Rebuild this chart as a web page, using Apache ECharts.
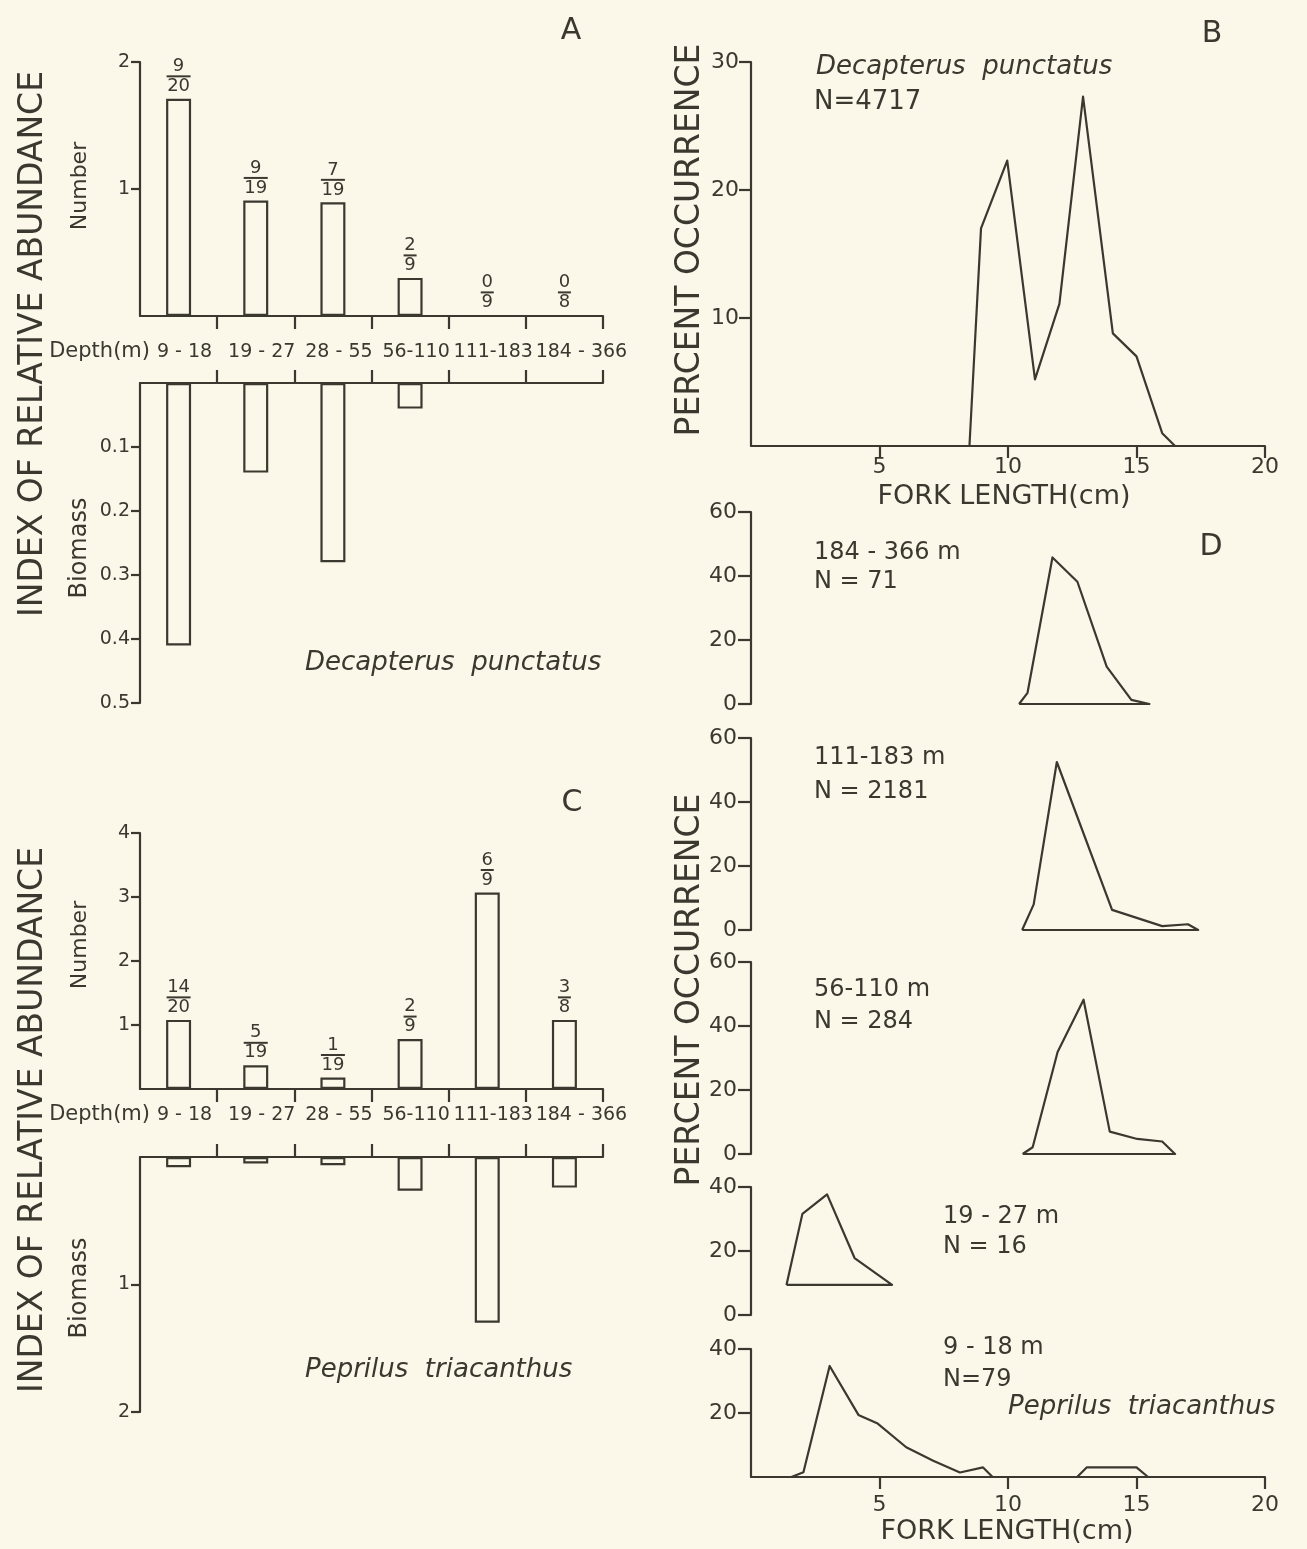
<!DOCTYPE html>
<html>
<head>
<meta charset="utf-8">
<script src="https://cdn.jsdelivr.net/npm/echarts@6/dist/echarts.min.js"></script>
<style>
  html, body { margin: 0; padding: 0; background: #fbf8ea; }
  #chart { width: 1307px; height: 1549px; }
</style>
</head>
<body>
<div id="chart"></div>
<script>
// Depth strata (m)
const depthRanges = ['9 - 18', '19 - 27', '28 - 55', '56-110', '111-183', '184 - 366'];

// A: Decapterus punctatus, index of relative abundance
const decapNumber = [1.71, 0.91, 0.895, 0.30, 0, 0];
const decapFractions = ['9/20', '9/19', '7/19', '2/9', '0/9', '0/8'];
const decapBiomass = [0.41, 0.14, 0.28, 0.04, 0, 0];

// C: Peprilus triacanthus, index of relative abundance
const peprNumber = [1.08, 0.37, 0.18, 0.78, 3.07, 1.08];
const peprFractions = ['14/20', '5/19', '1/19', '2/9', '6/9', '3/8'];
const peprBiomass = [0.08, 0.05, 0.065, 0.265, 1.30, 0.24];

// B: length frequency, D. punctatus (fork length cm, percent occurrence)
const forkDecap = [[8.5, 0], [8.95, 17.0], [9.97, 22.3], [11.05, 5.2], [12.0, 11.1], [12.92, 27.3], [14.08, 8.8], [15.0, 7.0], [16.0, 1.0], [16.5, 0]];

// D: length frequency, P. triacanthus by depth stratum (closed polygons)
const fork184 = [[10.43, 0], [10.76, 3.5], [11.73, 45.8], [12.7, 38.2], [13.84, 11.7], [14.8, 1.3], [15.5, 0], [10.43, 0]];
const fork111 = [[10.55, 0], [11.0, 8.0], [11.9, 52.5], [14.05, 6.3], [16.0, 1.2], [17.0, 1.8], [17.4, 0], [10.55, 0]];
const fork56 = [[10.57, 0], [10.96, 2.1], [11.93, 31.9], [12.94, 48.2], [13.96, 7.0], [15.03, 4.7], [16.0, 3.9], [16.5, 0], [10.57, 0]];
const fork19 = [[1.38, 9.4], [2.0, 31.6], [2.96, 37.7], [4.03, 17.8], [5.49, 9.4], [1.38, 9.4]];
const fork9a = [[1.57, 0], [2.04, 1.5], [3.06, 34.7], [4.18, 19.4], [4.93, 16.7], [6.04, 9.3], [7.09, 5.1], [8.13, 1.4], [9.03, 3.0], [9.4, 0]];
const fork9b = [[12.69, 0], [13.06, 3.0], [15.0, 3.0], [15.45, 0]];

// Tick values
const numberTicksA = [1, 2];
const biomassTicksA = [0.1, 0.2, 0.3, 0.4, 0.5];
const numberTicksC = [1, 2, 3, 4];
const biomassTicksC = [1, 2];
const pctTicksB = [10, 20, 30];
const pctTicks60 = [0, 20, 40, 60];
const pctTicks40 = [0, 20, 40];
const pctTicks40NoZero = [20, 40];
const lengthTicks = [5, 10, 15, 20];

const ink = '#3b3830';
const font = 'DejaVu Sans';
const lw = 2.2;

const chart = echarts.init(document.getElementById('chart'), null, { renderer: 'canvas' });

function grid(left, top, width, height) {
  return { left, top, width, height, containLabel: false };
}

function catAxis(gridIndex, top, showLabels, margin) {
  return {
    type: 'category', gridIndex, data: depthRanges,
    position: top ? 'top' : 'bottom',
    axisLine: { onZero: false, lineStyle: { color: ink, width: lw } },
    axisTick: { show: true, length: 13, interval: (i) => i > 0, lineStyle: { color: ink, width: lw } },
    axisLabel: {
      show: showLabels, interval: 0, margin: margin || 0, verticalAlign: 'middle',
      padding: [0, 0, 0, 12],
      color: ink, fontFamily: font, fontSize: 19,
      // the deepest stratum label sits a little further right
      formatter: (v, i) => (i === depthRanges.length - 1 ? '{last|' + v + '}' : v),
      rich: { last: { fontSize: 19, fontFamily: font, color: ink, padding: [0, 0, 0, 22] } }
    },
    splitLine: { show: false }
  };
}

function valAxisY(gridIndex, min, max, ticks, inverse, fontSize, tickLen, margin) {
  return {
    type: 'value', gridIndex, min, max, inverse: !!inverse,
    axisLine: { show: true, onZero: false, lineStyle: { color: ink, width: lw } },
    axisTick: { show: true, length: tickLen || 9, customValues: ticks, lineStyle: { color: ink, width: lw } },
    axisLabel: { show: true, customValues: ticks, color: ink, fontFamily: font, fontSize: fontSize || 19, margin: margin || 5 },
    splitLine: { show: false }
  };
}

function lenAxisX(gridIndex, show, margin) {
  return {
    type: 'value', gridIndex, min: 0, max: 20, show,
    axisLine: { show: true, onZero: false, lineStyle: { color: ink, width: lw } },
    axisTick: { show: true, length: 12, customValues: lengthTicks, lineStyle: { color: ink, width: lw } },
    axisLabel: { show: true, customValues: lengthTicks, color: ink, fontFamily: font, fontSize: 22, margin: margin || 10 },
    splitLine: { show: false }
  };
}

function fracLabel(fracs) {
  return {
    show: true, position: 'top', distance: 5, color: ink, fontFamily: font,
    formatter: p => {
      const [n, d] = fracs[p.dataIndex].split('/');
      const w = Math.max(n.length, d.length) > 1 ? 'wide' : 'narrow';
      return '{t|' + n + '}\n{' + w + '| }\n{t|' + d + '}';
    },
    rich: {
      t: { fontSize: 18, lineHeight: 15, fontFamily: font, color: ink, align: 'center' },
      narrow: { width: 13, height: 2, lineHeight: 5, fontSize: 2, backgroundColor: ink, align: 'center' },
      wide: { width: 24, height: 2, lineHeight: 5, fontSize: 2, backgroundColor: ink, align: 'center' }
    }
  };
}

function barSeries(idx, data, label) {
  return {
    type: 'bar', xAxisIndex: idx, yAxisIndex: idx, data, barWidth: 25,
    itemStyle: { color: 'rgba(0,0,0,0)', borderColor: ink, borderWidth: lw },
    label: label || { show: false },
    animation: false, silent: true
  };
}

function lineSeries(idx, data) {
  return {
    type: 'line', xAxisIndex: idx, yAxisIndex: idx, data,
    symbol: 'none', showSymbol: false, smooth: false,
    lineStyle: { color: ink, width: lw, join: 'round' },
    animation: false, silent: true, z: 3
  };
}

function txt(text, x, y, o) {
  o = o || {};
  return {
    type: 'text', x, y, rotation: o.rot || 0, silent: true,
    style: {
      text, x: 0, y: 0, fill: ink, fontFamily: font,
      fontSize: o.size || 22, fontStyle: o.italic ? 'italic' : 'normal',
      align: o.align || 'left', verticalAlign: 'middle'
    }
  };
}

const V = Math.PI / 2;

const option = {
  backgroundColor: '#fbf8ea',
  animation: false,
  grid: [
    grid(140, 62, 463, 254),    // A number
    grid(140, 383, 463, 320),   // A biomass
    grid(140, 833, 463, 256),   // C number
    grid(140, 1157, 463, 255),  // C biomass
    grid(751, 62, 514, 384),    // B
    grid(751, 512, 514, 192),   // D 184-366
    grid(751, 738, 514, 192),   // D 111-183
    grid(751, 962, 514, 192),   // D 56-110
    grid(751, 1187, 514, 128),  // D 19-27
    grid(751, 1349, 514, 128)   // D 9-18
  ],
  xAxis: [
    catAxis(0, false, true, 36),
    catAxis(1, true, false),
    catAxis(2, false, true, 26),
    catAxis(3, true, false),
    lenAxisX(4, true, 10),
    lenAxisX(5, false),
    lenAxisX(6, false),
    lenAxisX(7, false),
    lenAxisX(8, false),
    lenAxisX(9, true, 17)
  ],
  yAxis: [
    valAxisY(0, 0, 2, numberTicksA, false, 19, 9, 10),
    valAxisY(1, 0, 0.5, biomassTicksA, true, 19, 9, 10),
    valAxisY(2, 0, 4, numberTicksC, false, 19, 9, 10),
    valAxisY(3, 0, 2, biomassTicksC, true, 19, 9, 10),
    valAxisY(4, 0, 30, pctTicksB, false, 22, 12, 12),
    valAxisY(5, 0, 60, pctTicks60, false, 22, 13, 14),
    valAxisY(6, 0, 60, pctTicks60, false, 22, 13, 14),
    valAxisY(7, 0, 60, pctTicks60, false, 22, 13, 14),
    valAxisY(8, 0, 40, pctTicks40, false, 22, 13, 14),
    valAxisY(9, 0, 40, pctTicks40NoZero, false, 22, 13, 14)
  ],
  series: [
    barSeries(0, decapNumber, fracLabel(decapFractions)),
    barSeries(1, decapBiomass),
    barSeries(2, peprNumber, fracLabel(peprFractions)),
    barSeries(3, peprBiomass),
    lineSeries(4, forkDecap),
    lineSeries(5, fork184),
    lineSeries(6, fork111),
    lineSeries(7, fork56),
    lineSeries(8, fork19),
    lineSeries(9, fork9a),
    lineSeries(9, fork9b)
  ],
  graphic: [
    txt('A', 571, 31, { size: 30, align: 'center' }),
    txt('B', 1212, 34, { size: 30, align: 'center' }),
    txt('C', 572, 803, { size: 30, align: 'center' }),
    txt('D', 1211, 547, { size: 30, align: 'center' }),

    txt('INDEX OF RELATIVE ABUNDANCE', 33, 344, { size: 33, align: 'center', rot: V }),
    txt('INDEX OF RELATIVE ABUNDANCE', 33, 1120, { size: 33, align: 'center', rot: V }),
    txt('Number', 80, 186, { size: 22, align: 'center', rot: V }),
    txt('Biomass', 80, 548, { size: 24, align: 'center', rot: V }),
    txt('Number', 80, 945, { size: 22, align: 'center', rot: V }),
    txt('Biomass', 80, 1288, { size: 24, align: 'center', rot: V }),
    txt('Depth(m)', 150, 352, { size: 21, align: 'right' }),
    txt('Depth(m)', 150, 1115, { size: 21, align: 'right' }),
    txt('Decapterus  punctatus', 305, 663, { size: 26, italic: true }),
    txt('Peprilus  triacanthus', 305, 1370, { size: 26, italic: true }),

    txt('PERCENT OCCURRENCE', 690, 240, { size: 33, align: 'center', rot: V }),
    txt('PERCENT OCCURRENCE', 690, 990, { size: 33, align: 'center', rot: V }),
    txt('Decapterus  punctatus', 816, 67, { size: 26, italic: true }),
    txt('N=4717', 814, 102, { size: 26 }),
    txt('FORK LENGTH(cm)', 1004, 497, { size: 27, align: 'center' }),
    txt('FORK LENGTH(cm)', 1007, 1532, { size: 27, align: 'center' }),

    txt('184 - 366 m', 814, 553, { size: 24 }),
    txt('N = 71', 814, 582, { size: 24 }),
    txt('111-183 m', 814, 758, { size: 24 }),
    txt('N = 2181', 814, 792, { size: 24 }),
    txt('56-110 m', 814, 990, { size: 24 }),
    txt('N = 284', 814, 1022, { size: 24 }),
    txt('19 - 27 m', 943, 1217, { size: 24 }),
    txt('N = 16', 943, 1247, { size: 24 }),
    txt('9 - 18 m', 943, 1348, { size: 24 }),
    txt('N=79', 943, 1380, { size: 24 }),
    txt('Peprilus  triacanthus', 1008, 1407, { size: 26, italic: true })
  ]
};

chart.setOption(option);
</script>
</body>
</html>
